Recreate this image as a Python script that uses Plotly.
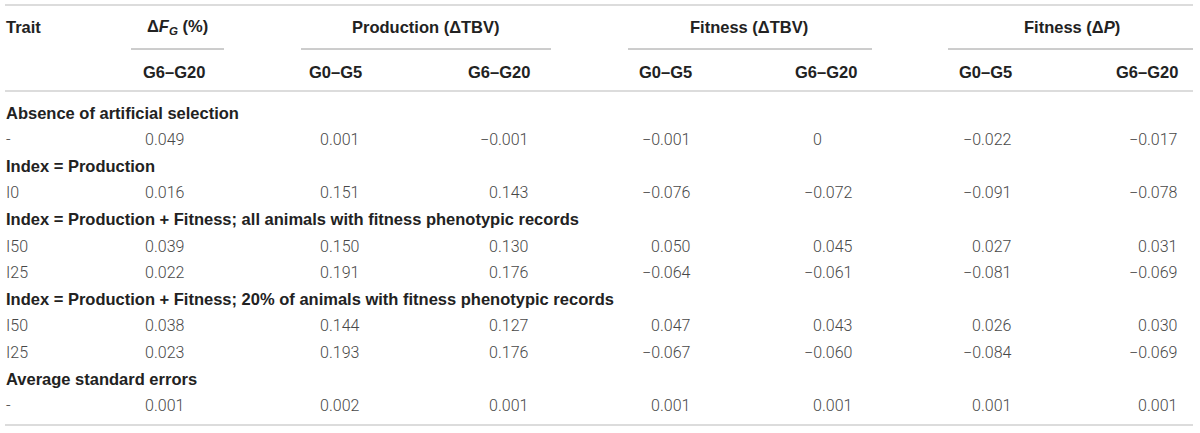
import plotly.graph_objects as go

# ---------------- data ----------------
group_headers = ["Δ<i>F<sub>G</sub></i> (%)", "Production (ΔTBV)", "Fitness (ΔTBV)", "Fitness (Δ<i>P</i>)"]
sub_headers = ["G6–G20", "G0–G5", "G6–G20", "G0–G5", "G6–G20", "G0–G5", "G6–G20"]
sections = [
    "Absence of artificial selection",
    "Index = Production",
    "Index = Production + Fitness; all animals with fitness phenotypic records",
    "Index = Production + Fitness; 20% of animals with fitness phenotypic records",
    "Average standard errors",
]
section_rows = [["-"], ["I0"], ["I50", "I25"], ["I50", "I25"], ["-"]]

dFG_g6_g20 = [0.049, 0.016, 0.039, 0.022, 0.038, 0.023, 0.001]
prod_g0_g5 = [0.001, 0.151, 0.150, 0.191, 0.144, 0.193, 0.002]
prod_g6_g20 = [-0.001, 0.143, 0.130, 0.176, 0.127, 0.176, 0.001]
fit_tbv_g0_g5 = [-0.001, -0.076, 0.050, -0.064, 0.047, -0.067, 0.001]
fit_tbv_g6_g20 = [0, -0.072, 0.045, -0.061, 0.043, -0.060, 0.001]
fit_p_g0_g5 = [-0.022, -0.091, 0.027, -0.081, 0.026, -0.084, 0.001]
fit_p_g6_g20 = [-0.017, -0.078, 0.031, -0.069, 0.030, -0.069, 0.001]

columns = [dFG_g6_g20, prod_g0_g5, prod_g6_g20, fit_tbv_g0_g5,
           fit_tbv_g6_g20, fit_p_g0_g5, fit_p_g6_g20]

# ---------------- layout constants ----------------
W, H = 1200, 433
BOLD = dict(family="Liberation Sans, Arial, sans-serif", size=16.5, color="#222222", weight="bold")
LIGHT = dict(family="Roboto, Liberation Sans, sans-serif", size=16, color="#484848", weight=300)

dec_x = [154, 329, 498, 660, 822, 981, 1147]          # decimal point positions
sub_right = [205, 362, 530, 692, 857, 1012, 1178]       # subheader right edges
group_center = [177, 426, 749, 1072]
group_span = [(131, 224), (301, 551), (628, 872), (948, 1193)]
y_title, y_under, y_sub, y_hline = 27, 49, 72, 91
y_first, row_step = 113, 26.6
x_left = 6

annotations = []
shapes = []


def add_text(x, y, text, font, anchor):
    annotations.append(dict(x=x, y=y, xref="x", yref="y", text=text, showarrow=False,
                            xanchor=anchor, yanchor="middle", font=font,
                            borderpad=0, borderwidth=0))


def fmt(v):
    if v == 0:
        return "0"
    s = f"{abs(v):.3f}"
    return ("−" if v < 0 else "") + s


# header
add_text(x_left, y_title, "Trait", BOLD, "left")
for gh, cx in zip(group_headers, group_center):
    add_text(cx, y_title, gh, BOLD, "center")
for i, sh in enumerate(sub_headers):
    add_text(sub_right[i], y_sub, sh, BOLD, "right")


def hline(x0, x1, y, color, width):
    shapes.append(dict(type="line", xref="x", yref="y", x0=x0, x1=x1, y0=y, y1=y,
                       line=dict(color=color, width=width)))


hline(5, 1193, 5, "#dcdcdc", 2)
for a, b in group_span:
    hline(a, b, y_under, "#9a9a9a", 1)
hline(5, 1193, y_hline, "#dcdcdc", 2)

# body
r = 0
k = 0
for sec, rows in zip(sections, section_rows):
    y = y_first + r * row_step
    add_text(x_left, y, sec, BOLD, "left")
    r += 1
    for lab in rows:
        y = y_first + r * row_step
        add_text(x_left, y, lab, LIGHT, "left")
        for c, col in enumerate(columns):
            s = fmt(col[k])
            if "." in s:
                ip, fp = s.split(".")
                add_text(dec_x[c], y, ip, LIGHT, "right")
                add_text(dec_x[c], y, "." + fp, LIGHT, "left")
            else:
                add_text(dec_x[c], y, s, LIGHT, "right")
        r += 1
        k += 1

hline(5, 1193, 425, "#dcdcdc", 2)

fig = go.Figure()
fig.update_layout(
    width=W, height=H, margin=dict(l=0, r=0, t=0, b=0),
    paper_bgcolor="white", plot_bgcolor="white",
    xaxis=dict(range=[0, W], visible=False, fixedrange=True),
    yaxis=dict(range=[H, 0], visible=False, fixedrange=True),
    annotations=annotations, shapes=shapes, showlegend=False,
)
fig.write_html("out.html", config={"displayModeBar": False, "staticPlot": True},
               post_script="document.body.style.margin='0';document.body.style.overflow='hidden';")
